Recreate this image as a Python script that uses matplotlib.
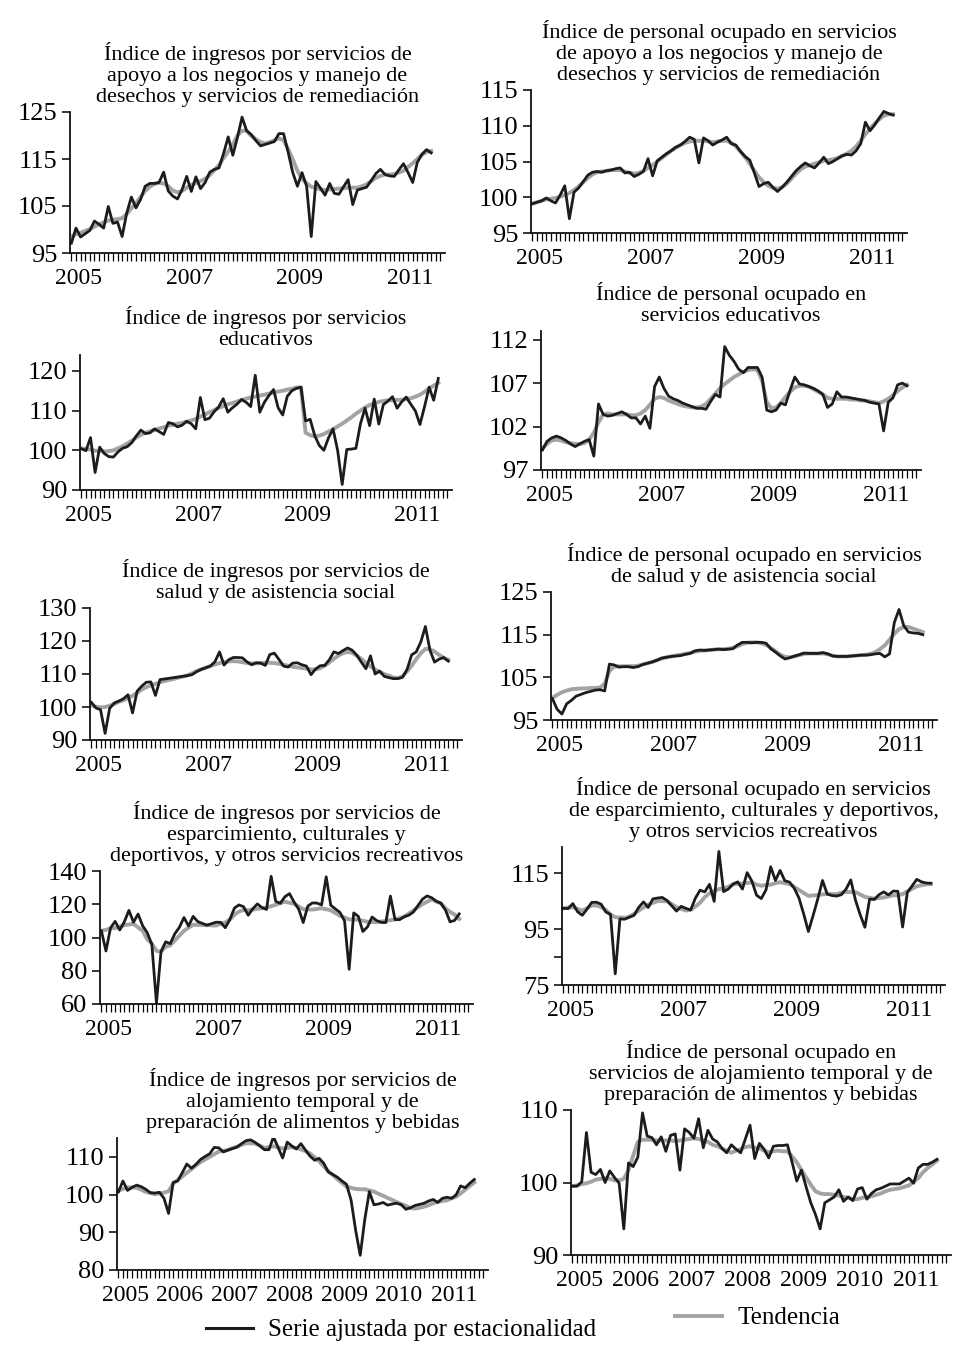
import numpy as np
import matplotlib.pyplot as plt
from matplotlib.lines import Line2D
from matplotlib.ticker import FixedLocator

plt.rcParams['font.family'] = ['Liberation Serif', 'DejaVu Serif']

# Monthly indices, Jan 2005 - Jul 2011 (base 2005 = 100)
# "serie" = serie ajustada por estacionalidad, "tend" = tendencia

ing_apoyo_serie = [97.1, 100.3, 98.4, 99.1, 99.8, 101.8, 101.1, 100.3, 104.9, 101.3,
                   101.6, 98.5, 103.5, 106.9, 104.6, 106.4, 109.2, 109.8, 109.8, 110.0,
                   112.2, 108.2, 107.1, 106.5, 108.5, 111.3, 108.1, 111.2, 108.7, 110.0,
                   112.2, 112.8, 113.1, 116.2, 119.7, 115.8, 119.6, 123.9, 121.0, 120.2,
                   118.9, 117.8, 118.1, 118.4, 118.7, 120.4, 120.4, 116.4, 112.1, 109.2,
                   112.1, 109.2, 98.5, 110.2, 108.8, 107.3, 109.8, 107.7, 107.5, 109.1,
                   110.6, 105.3, 108.4, 108.7, 109.0, 110.4, 111.9, 112.8, 111.7, 111.4,
                   111.3, 112.7, 114.0, 112.1, 110.0, 114.3, 116.0, 117.0, 116.3]
ing_apoyo_tend = [98.5, 99.0, 99.3, 99.7, 100.1, 100.6, 101.1, 101.5, 101.9, 102.1,
                  102.2, 102.4, 103.3, 104.5, 105.6, 106.9, 108.2, 109.1, 109.7, 109.9,
                  109.8, 109.2, 108.3, 107.9, 108.2, 108.9, 109.5, 109.9, 110.3, 110.8,
                  111.6, 112.6, 113.7, 115.2, 116.6, 118.1, 120.0, 121.0, 121.0, 119.9,
                  119.2, 118.6, 118.3, 118.6, 119.0, 119.4, 119.0, 117.1, 114.9, 112.5,
                  110.8, 109.8, 109.1, 108.8, 108.5, 108.4, 108.5, 108.6, 108.7, 108.8,
                  108.9, 108.9, 108.9, 109.2, 109.6, 110.3, 111.0, 111.4, 111.7, 111.7,
                  111.8, 112.1, 112.5, 113.3, 114.1, 115.0, 115.9, 116.5, 116.7]

per_apoyo_serie = [99.1, 99.3, 99.5, 99.9, 99.5, 99.2, 100.3, 101.6, 97.0, 100.7,
                   101.3, 102.2, 103.1, 103.5, 103.6, 103.5, 103.7, 103.8, 104.0, 104.1,
                   103.4, 103.5, 102.9, 103.2, 103.6, 105.4, 103.0, 105.1, 105.6, 106.1,
                   106.5, 107.0, 107.3, 107.8, 108.4, 108.1, 104.8, 108.3, 107.9, 107.3,
                   107.7, 108.0, 108.4, 107.5, 107.3, 106.4, 105.7, 105.2, 103.4, 101.5,
                   101.9, 102.1, 101.4, 100.8, 101.4, 102.1, 102.9, 103.7, 104.3, 104.8,
                   104.4, 104.1, 104.8, 105.6, 104.7, 105.0, 105.4, 105.8, 106.0, 105.9,
                   106.5, 107.5, 110.5, 109.3, 110.1, 111.1, 112.0, 111.7, 111.5]
per_apoyo_tend = [99.1, 99.3, 99.5, 99.7, 99.8, 99.9, 100.1, 100.3, 100.6, 101.0,
                  101.5, 102.1, 102.7, 103.2, 103.5, 103.6, 103.7, 103.8, 103.8, 103.8,
                  103.6, 103.4, 103.3, 103.4, 103.7, 104.1, 104.5, 105.0, 105.5, 106.0,
                  106.5, 106.9, 107.3, 107.6, 107.8, 107.9, 107.9, 107.9, 107.8, 107.7,
                  107.8, 107.9, 107.9, 107.6, 107.1, 106.4, 105.6, 104.7, 103.7, 102.8,
                  102.1, 101.6, 101.3, 101.2, 101.4, 101.9, 102.6, 103.3, 103.9, 104.3,
                  104.5, 104.7, 104.9, 105.1, 105.2, 105.3, 105.5, 105.8, 106.1, 106.5,
                  107.1, 107.9, 108.8, 109.6, 110.3, 110.9, 111.4, 111.6, 111.6]

ing_educ_serie = [100.4, 99.9, 103.2, 94.4, 100.8, 99.2, 98.4, 98.3, 99.6, 100.5,
                  100.9, 101.9, 103.6, 105.1, 104.2, 104.4, 105.4, 104.7, 104.0, 107.0,
                  106.7, 105.9, 106.3, 107.3, 106.7, 105.4, 113.3, 107.7, 108.1, 109.7,
                  110.9, 113.0, 109.6, 110.7, 111.6, 112.8, 112.1, 111.0, 118.9, 109.6,
                  112.1, 113.8, 115.3, 110.7, 108.9, 113.6, 115.0, 115.6, 115.9, 107.4,
                  107.8, 103.7, 101.2, 100.0, 103.1, 105.4, 100.0, 91.4, 100.2, 100.3,
                  100.5, 106.7, 110.6, 106.2, 112.9, 106.6, 111.5, 112.4, 113.5, 110.6,
                  112.2, 113.4, 111.6, 109.9, 106.5, 111.0, 115.9, 112.6, 118.1]
ing_educ_tend = [100.5, 100.3, 100.2, 99.9, 99.8, 99.7, 99.8, 100.0, 100.5, 101.0,
                 101.7, 102.4, 103.2, 103.9, 104.4, 104.8, 105.1, 105.5, 105.8, 106.2,
                 106.4, 106.7, 106.9, 107.2, 107.5, 107.9, 108.5, 109.0, 109.6, 110.1,
                 110.7, 111.1, 111.6, 111.9, 112.3, 112.6, 113.0, 113.3, 113.5, 113.8,
                 114.0, 114.3, 114.5, 114.8, 115.0, 115.3, 115.5, 115.8, 115.8, 104.4,
                 103.8, 103.5, 103.7, 104.1, 104.7, 105.3, 106.0, 106.7, 107.5, 108.3,
                 109.2, 110.0, 110.8, 111.4, 111.8, 112.2, 112.4, 112.6, 112.6, 112.7,
                 112.7, 112.9, 113.1, 113.5, 114.0, 114.7, 115.6, 116.3, 117.0]

per_educ_serie = [99.3, 100.3, 100.7, 100.9, 100.7, 100.4, 100.0, 99.7, 100.0, 100.3,
                  100.5, 98.6, 104.6, 103.4, 103.2, 103.3, 103.5, 103.7, 103.4, 103.0,
                  103.0, 102.3, 103.2, 101.8, 106.6, 107.7, 106.4, 105.5, 105.2, 105.0,
                  104.7, 104.5, 104.3, 104.1, 104.1, 104.0, 104.9, 105.7, 105.4, 111.2,
                  110.2, 109.5, 108.6, 108.2, 108.8, 108.8, 108.8, 107.7, 103.9, 103.7,
                  103.9, 104.7, 104.5, 106.2, 107.7, 106.9, 106.8, 106.6, 106.4, 106.1,
                  105.7, 104.2, 104.6, 106.0, 105.4, 105.4, 105.3, 105.2, 105.1, 105.0,
                  104.8, 104.7, 104.6, 101.5, 104.8, 105.3, 106.8, 107.0, 106.7]
per_educ_tend = [99.5, 100.0, 100.4, 100.5, 100.4, 100.2, 100.1, 100.0, 100.0, 100.1,
                 100.5, 101.3, 102.5, 103.4, 103.5, 103.4, 103.4, 103.4, 103.4, 103.3,
                 103.3, 103.5, 103.9, 104.5, 105.2, 105.4, 105.3, 105.0, 104.8, 104.6,
                 104.4, 104.3, 104.2, 104.2, 104.3, 104.6, 105.2, 105.8, 106.4, 106.9,
                 107.3, 107.7, 108.0, 108.3, 108.5, 108.6, 108.5, 107.3, 104.8, 104.1,
                 104.2, 104.7, 105.4, 106.0, 106.5, 106.7, 106.7, 106.6, 106.3, 106.0,
                 105.7, 105.3, 105.2, 105.2, 105.2, 105.2, 105.1, 105.1, 105.0, 105.0,
                 104.9, 104.8, 104.7, 104.9, 105.2, 105.6, 106.1, 106.5, 106.8]

ing_salud_serie = [101.4, 99.7, 99.2, 92.0, 99.6, 101.2, 101.8, 102.5, 103.7, 98.2,
                   104.8, 106.3, 107.5, 107.6, 103.5, 108.3, 108.5, 108.7, 108.9, 109.1,
                   109.3, 109.5, 109.8, 110.7, 111.4, 111.9, 112.4, 113.7, 116.7, 112.7,
                   114.3, 115.0, 115.0, 114.9, 113.7, 112.8, 113.4, 113.3, 112.6, 115.9,
                   116.3, 114.4, 112.4, 112.1, 113.3, 113.4, 112.8, 112.4, 109.8, 111.5,
                   112.5, 112.6, 114.3, 116.7, 116.2, 117.1, 117.9, 117.2, 115.7, 113.6,
                   111.6, 115.5, 110.0, 110.9, 109.3, 108.9, 108.6, 108.6, 109.0, 111.4,
                   115.8, 116.7, 119.7, 124.4, 117.2, 113.6, 114.5, 115.0, 113.9]
ing_salud_tend = [100.5, 100.1, 99.9, 100.0, 100.4, 100.9, 101.6, 102.0, 102.7, 103.4,
                  104.3, 105.3, 106.0, 106.6, 107.0, 107.5, 107.9, 108.2, 108.5, 108.9,
                  109.2, 109.6, 110.2, 110.9, 111.4, 111.9, 112.4, 112.9, 113.3, 113.6,
                  113.8, 113.9, 113.8, 113.6, 113.3, 113.2, 113.2, 113.3, 113.4, 113.4,
                  113.3, 113.1, 112.8, 112.5, 112.2, 112.0, 111.8, 111.6, 111.4, 111.4,
                  111.8, 112.5, 113.5, 114.6, 115.6, 116.3, 116.7, 116.4, 115.6, 114.6,
                  113.3, 112.3, 111.4, 110.6, 110.0, 109.5, 108.9, 108.8, 109.3, 110.8,
                  112.5, 114.5, 116.3, 117.6, 117.5, 116.8, 115.8, 114.9, 114.3]

per_salud_serie = [100.0, 97.5, 96.4, 98.8, 99.6, 100.6, 101.0, 101.4, 101.7, 102.0,
                   102.1, 101.8, 108.1, 107.9, 107.4, 107.5, 107.5, 107.3, 107.5, 108.0,
                   108.3, 108.6, 109.0, 109.5, 109.7, 109.9, 110.0, 110.1, 110.4, 110.6,
                   111.2, 111.4, 111.3, 111.4, 111.5, 111.6, 111.5, 111.6, 111.7, 112.6,
                   113.2, 113.2, 113.1, 113.2, 113.2, 113.0, 111.7, 110.9, 110.0, 109.3,
                   109.6, 110.0, 110.3, 110.7, 110.6, 110.6, 110.6, 110.8, 110.5, 110.0,
                   109.9, 109.9, 109.9, 110.0, 110.1, 110.2, 110.2, 110.3, 110.5, 110.6,
                   109.8, 110.5, 117.8, 120.9, 117.1, 115.6, 115.4, 115.3, 115.0]
per_salud_tend = [100.2, 100.9, 101.5, 101.9, 102.2, 102.3, 102.4, 102.4, 102.5, 102.5,
                  102.6, 103.5, 106.5, 107.5, 107.6, 107.6, 107.6, 107.6, 107.7, 108.0,
                  108.3, 108.6, 109.0, 109.4, 109.7, 109.9, 110.1, 110.3, 110.5, 110.7,
                  111.0, 111.2, 111.3, 111.4, 111.5, 111.6, 111.6, 111.7, 111.9, 112.3,
                  112.8, 113.1, 113.2, 113.2, 113.0, 112.6, 111.9, 111.1, 110.3, 109.8,
                  109.7, 109.9, 110.2, 110.5, 110.6, 110.6, 110.6, 110.6, 110.4, 110.1,
                  109.9, 109.9, 109.9, 110.0, 110.1, 110.2, 110.3, 110.5, 110.9, 111.6,
                  112.5, 113.8, 115.2, 116.3, 116.8, 116.8, 116.4, 116.0, 115.6]

ing_esparc_serie = [104.0, 91.9, 105.8, 109.7, 104.5, 109.4, 116.3, 109.2, 114.1, 107.0,
                    102.9, 95.8, 60.6, 91.5, 97.4, 96.3, 102.2, 106.1, 112.0, 106.9,
                    112.7, 109.6, 108.5, 107.4, 108.3, 109.2, 109.1, 105.9, 110.8, 117.7,
                    119.6, 118.5, 113.4, 117.3, 120.2, 118.0, 116.9, 136.8, 121.7, 120.6,
                    124.5, 126.4, 121.3, 117.1, 109.0, 118.9, 120.8, 120.7, 119.6, 136.5,
                    119.4, 117.2, 115.1, 110.0, 80.9, 114.8, 112.7, 103.6, 106.4, 112.3,
                    110.2, 109.1, 109.0, 124.9, 110.8, 110.7, 112.5, 113.4, 115.3, 119.2,
                    123.1, 125.0, 123.9, 121.8, 120.6, 116.5, 109.4, 110.3, 114.2]
ing_esparc_tend = [104.0, 104.6, 105.5, 105.7, 106.5, 107.4, 107.8, 108.2, 106.1, 104.0,
                   98.9, 96.4, 92.0, 91.5, 94.4, 95.3, 98.2, 101.1, 104.0, 105.9,
                   107.7, 107.6, 107.5, 107.4, 107.3, 107.2, 108.1, 109.0, 110.8, 113.7,
                   115.6, 116.5, 116.4, 116.8, 117.2, 117.6, 118.0, 118.8, 119.7, 120.6,
                   121.5, 120.9, 120.3, 118.6, 117.0, 116.9, 116.8, 117.2, 117.6, 117.0,
                   116.4, 114.7, 113.1, 112.0, 110.9, 110.8, 110.7, 110.1, 109.4, 109.3,
                   109.2, 109.6, 110.0, 110.4, 110.8, 111.7, 112.5, 114.4, 116.3, 118.2,
                   120.1, 121.5, 122.9, 121.6, 120.6, 117.5, 115.4, 113.8, 111.2]

per_esparc_serie = [102.5, 102.4, 104.2, 101.3, 100.0, 102.2, 104.6, 104.7, 104.0, 101.2,
                    100.3, 79.0, 98.7, 98.6, 99.3, 100.0, 102.9, 104.8, 102.8, 105.9,
                    106.2, 106.4, 105.3, 103.4, 101.5, 103.2, 102.5, 101.9, 106.1, 109.0,
                    108.4, 111.1, 105.0, 122.9, 108.5, 109.4, 111.2, 112.0, 109.4, 115.3,
                    112.3, 107.2, 106.0, 109.1, 117.4, 112.5, 116.1, 112.4, 111.9, 109.7,
                    106.2, 100.5, 94.2, 99.9, 105.9, 112.5, 107.6, 107.1, 106.9, 107.4,
                    109.4, 112.7, 105.4, 100.2, 95.7, 105.8, 105.7, 107.4, 108.4, 107.3,
                    108.7, 108.6, 95.8, 108.2, 110.5, 112.9, 112.0, 111.6, 111.5]
per_esparc_tend = [102.5, 102.8, 102.9, 102.3, 101.7, 102.5, 103.6, 103.5, 103.0, 101.9,
                   100.3, 99.3, 99.2, 99.1, 99.5, 100.5, 101.7, 102.8, 103.8, 104.5,
                   105.1, 105.1, 105.0, 104.0, 102.9, 102.3, 101.7, 102.0, 103.1, 104.5,
                   106.5, 107.9, 108.8, 109.4, 109.7, 110.2, 111.1, 111.3, 111.4, 111.6,
                   111.8, 111.0, 110.6, 110.9, 111.0, 111.5, 111.9, 111.5, 111.2, 110.2,
                   109.1, 108.0, 107.0, 107.1, 107.3, 107.5, 107.7, 107.6, 107.6, 108.1,
                   108.4, 108.3, 108.3, 107.5, 106.6, 106.3, 106.0, 106.2, 106.4, 106.8,
                   107.2, 107.2, 107.6, 108.6, 109.5, 110.4, 110.8, 111.1, 111.2]

ing_aloj_serie = [100.7, 103.6, 101.1, 101.9, 102.5, 102.1, 101.4, 100.5, 100.4, 100.6,
                  99.0, 95.0, 103.2, 103.6, 105.8, 108.1, 107.0, 108.0, 109.3, 110.1,
                  110.8, 112.5, 112.4, 111.3, 111.8, 112.2, 112.6, 113.5, 114.3, 114.5,
                  113.8, 112.9, 111.9, 111.9, 115.3, 112.5, 109.7, 113.9, 112.9, 112.1,
                  113.5, 111.8, 110.2, 109.1, 109.6, 108.3, 106.0, 105.3, 104.6, 103.6,
                  102.7, 98.5, 90.5, 83.9, 93.4, 100.8, 97.3, 97.5, 97.9, 97.2,
                  97.5, 97.7, 97.3, 96.1, 96.5, 97.1, 97.4, 97.7, 98.3, 98.7,
                  97.9, 99.0, 99.3, 99.0, 99.9, 102.3, 101.8, 103.0, 104.0]
ing_aloj_tend = [101.0, 101.5, 101.9, 101.9, 101.8, 101.3, 100.7, 100.4, 100.1, 100.3,
                 100.5, 100.9, 102.9, 103.9, 104.8, 105.8, 106.7, 107.7, 108.6, 109.3,
                 110.0, 110.7, 111.4, 111.6, 111.8, 112.3, 112.7, 113.2, 113.6, 113.6,
                 113.5, 113.0, 112.4, 112.6, 112.8, 112.5, 112.2, 112.4, 112.6, 112.3,
                 112.0, 111.5, 110.9, 109.9, 108.8, 107.5, 106.2, 105.2, 104.1, 103.1,
                 102.1, 101.8, 101.5, 101.4, 101.4, 101.1, 100.8, 100.2, 99.7, 99.1,
                 98.6, 98.0, 97.5, 97.0, 96.4, 96.3, 96.5, 96.8, 97.2, 97.7,
                 98.1, 98.3, 98.5, 99.0, 99.4, 100.3, 101.3, 102.3, 103.2]

per_aloj_serie = [99.5, 99.5, 100.1, 106.9, 101.4, 101.1, 101.8, 100.0, 101.6, 100.7,
                  99.9, 93.6, 102.7, 102.2, 103.5, 109.6, 106.4, 106.2, 105.2, 106.3,
                  104.3, 106.5, 106.7, 101.7, 107.4, 106.9, 106.1, 108.8, 104.8, 107.2,
                  106.0, 105.6, 104.7, 104.1, 105.2, 104.6, 104.1, 106.0, 107.9, 103.3,
                  105.4, 104.6, 103.4, 105.0, 105.1, 105.1, 105.2, 102.8, 100.2, 101.7,
                  99.4, 97.2, 95.6, 93.6, 97.2, 97.6, 98.0, 99.0, 97.4, 98.0,
                  97.5, 99.1, 99.3, 97.7, 98.5, 99.0, 99.2, 99.5, 99.8, 99.8,
                  99.8, 100.2, 100.6, 99.9, 102.0, 102.5, 102.5, 102.8, 103.2]
per_aloj_tend = [99.5, 99.6, 99.8, 99.9, 100.1, 100.4, 100.5, 100.6, 100.5, 100.3,
                 100.3, 100.5, 101.7, 103.7, 105.6, 105.9, 105.9, 105.9, 105.8, 105.8,
                 105.8, 105.8, 105.7, 105.8, 105.9, 106.0, 106.1, 106.0, 105.8, 105.6,
                 105.2, 105.0, 104.7, 104.4, 104.1, 104.4, 104.6, 104.9, 105.0, 104.8,
                 104.7, 104.4, 104.2, 104.3, 104.4, 104.3, 104.3, 103.6, 102.8, 101.7,
                 100.7, 99.7, 98.8, 98.5, 98.4, 98.4, 98.3, 98.2, 98.0, 97.9,
                 97.7, 97.7, 97.9, 98.0, 98.1, 98.3, 98.5, 98.8, 99.0, 99.1,
                 99.2, 99.4, 99.6, 100.1, 100.6, 101.4, 102.0, 102.5, 103.0]

titles = [
    "Índice de ingresos por servicios de\napoyo a los negocios y manejo de\ndesechos y servicios de remediación",
    "Índice de personal ocupado en servicios\nde apoyo a los negocios y manejo de\ndesechos y servicios de remediación",
    "Índice de ingresos por servicios\neducativos",
    "Índice de personal ocupado en\nservicios educativos",
    "Índice de ingresos por servicios de\nsalud y de asistencia social",
    "Índice de personal ocupado en servicios\nde salud y de asistencia social",
    "Índice de ingresos por servicios de\nesparcimiento, culturales y\ndeportivos, y otros servicios recreativos",
    "Índice de personal ocupado en servicios\nde esparcimiento, culturales y deportivos,\ny otros servicios recreativos",
    "Índice de ingresos por servicios de\nalojamiento temporal y de\npreparación de alimentos y bebidas",
    "Índice de personal ocupado en\nservicios de alojamiento temporal y de\npreparación de alimentos y bebidas",
]
series = [ing_apoyo_serie, per_apoyo_serie, ing_educ_serie, per_educ_serie,
          ing_salud_serie, per_salud_serie, ing_esparc_serie, per_esparc_serie,
          ing_aloj_serie, per_aloj_serie]
trends = [ing_apoyo_tend, per_apoyo_tend, ing_educ_tend, per_educ_tend,
          ing_salud_tend, per_salud_tend, ing_esparc_tend, per_esparc_tend,
          ing_aloj_tend, per_aloj_tend]
ylims = [(95, 125), (95, 115), (90, 124), (97, 113), (90, 130),
         (95, 125), (60, 140), (75, 124.5), (80, 115), (90, 110)]
yticks = [[95, 105, 115, 125], [95, 100, 105, 110, 115], [90, 100, 110, 120],
          [97, 102, 107, 112], [90, 100, 110, 120, 130], [95, 105, 115, 125],
          [60, 80, 100, 120, 140], [75, 95, 115], [80, 90, 100, 110], [90, 100, 110]]
year_labels = ['2005', '2006', '2007', '2008', '2009', '2010', '2011']

# panel boxes in pixels: left, right, top, bottom
W, H = 954, 1349
boxes = [(70, 445, 112, 253), (531, 907, 90, 233),
         (80, 452, 355, 490), (541, 921, 331, 470),
         (90, 462, 608, 740), (551, 937, 592, 720),
         (100, 473, 871, 1004), (562, 945, 847, 985),
         (117, 488, 1138, 1270), (571, 951, 1110, 1255)]

fig = plt.figure(figsize=(W / 100, H / 100), dpi=100)
grey = '#a3a3a3'
dark = '#1c1c1c'

for i in range(10):
    l, r, t, b = boxes[i]
    ax = fig.add_axes([l / W, 1 - b / H, (r - l) / W, (b - t) / H])
    x = np.arange(len(series[i]))
    ax.plot(x, trends[i], color=grey, lw=2.8, solid_joinstyle='round')
    ax.plot(x, series[i], color=dark, lw=2.0, solid_joinstyle='round')

    ax.set_xlim(-0.3, 81)
    ax.set_ylim(*ylims[i])
    ax.set_yticks(yticks[i])
    if i == 7:
        ax.yaxis.set_minor_locator(FixedLocator([85]))
    ax.tick_params(axis='y', which='both', direction='out', length=6, width=1.1,
                   labelsize=19, pad=3)

    # monthly tick marks, year labels
    ax.xaxis.set_minor_locator(FixedLocator(np.arange(0, 81)))
    step = 1 if i >= 8 else 2
    ax.set_xticks([12 * k + 1.5 for k in range(0, 7, step)])
    ax.set_xticklabels(year_labels[::step])
    ax.tick_params(axis='x', which='minor', direction='out', length=6, width=0.9)
    ax.tick_params(axis='x', which='major', length=0, labelsize=17, pad=11)

    for s in ['top', 'right']:
        ax.spines[s].set_visible(False)
    for s in ['left', 'bottom']:
        ax.spines[s].set_linewidth(1.3)
        ax.spines[s].set_color('#111111')

    ax.set_title(titles[i], fontsize=16, linespacing=1.15, pad=7)

h1 = Line2D([], [], color=dark, lw=2.2)
h2 = Line2D([], [], color=grey, lw=2.8)
fig.legend(handles=[h1], labels=['Serie ajustada por estacionalidad'],
           loc='center left', bbox_to_anchor=(183 / W, 1 - 1330 / H),
           frameon=False, fontsize=18, handlelength=1.9, handletextpad=0.6)
fig.legend(handles=[h2], labels=['Tendencia'],
           loc='center left', bbox_to_anchor=(652 / W, 1 - 1318 / H),
           frameon=False, fontsize=18, handlelength=1.9, handletextpad=0.6)

fig.savefig('out.png', dpi=100)
